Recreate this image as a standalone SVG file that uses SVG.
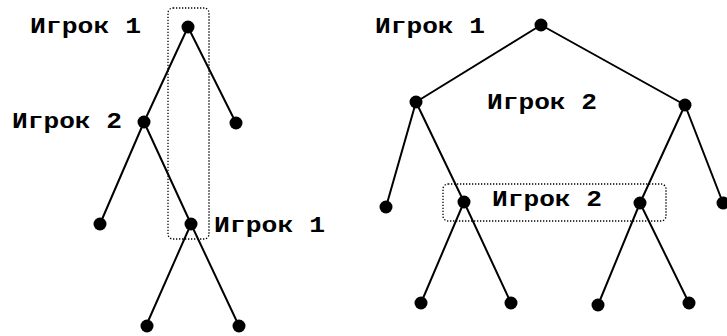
<svg xmlns="http://www.w3.org/2000/svg" width="727" height="336" viewBox="0 0 727 336">
<style>
.e{stroke:#000;stroke-width:2;fill:none}
.n{fill:#000}
.t{font-family:"Liberation Mono","DejaVu Sans Mono",monospace;font-weight:bold;font-size:22px;fill:#000}
.box{fill:none;stroke:#000;stroke-width:1.3;stroke-dasharray:1.3 1.7}
</style>
<rect width="727" height="336" fill="#fff"/>
<g id="connectors">
<path class="e" d="M188 27L144 122M188 27L236 123M144 122L100 224M144 122L191 224M191 224L146 326M191 224L239 326"/>
<path class="e" d="M541 25L416 102M541 25L685 105M416 102L386 207M416 102L464 202M685 105L640 203M685 105L723 203M464 202L421 303M464 202L511 303M640 203L598 305M640 203L689 303"/>
</g>
<g id="box1"><rect class="box" x="168" y="8" width="41" height="231" rx="5"/></g>
<g id="box2"><rect class="box" x="443" y="184" width="223" height="37" rx="5"/></g>
<g id="L_root"><circle class="n" cx="188" cy="27" r="6.5"/><text class="t" x="30" y="33" textLength="111" lengthAdjust="spacingAndGlyphs">Игрок 1</text></g>
<g id="L_p2"><circle class="n" cx="144" cy="122" r="6.5"/><text class="t" x="12" y="128" textLength="110" lengthAdjust="spacingAndGlyphs">Игрок 2</text></g>
<g id="L_r"><circle class="n" cx="236" cy="123" r="6.5"/></g>
<g id="L_ll"><circle class="n" cx="100" cy="224" r="6.5"/></g>
<g id="L_p1"><circle class="n" cx="191" cy="224" r="6.5"/><text class="t" x="214" y="232" textLength="111" lengthAdjust="spacingAndGlyphs">Игрок 1</text></g>
<g id="L_b1"><circle class="n" cx="147" cy="326" r="6.5"/></g>
<g id="L_b2"><circle class="n" cx="239" cy="326" r="6.5"/></g>
<g id="R_root"><circle class="n" cx="541" cy="25" r="6.5"/><text class="t" x="375" y="33" textLength="110" lengthAdjust="spacingAndGlyphs">Игрок 1</text></g>
<g id="R_l"><circle class="n" cx="416" cy="102" r="6.5"/></g>
<g id="R_r"><circle class="n" cx="685" cy="105" r="6.5"/></g>
<g id="R_label2"><text class="t" x="487" y="109" textLength="110" lengthAdjust="spacingAndGlyphs">Игрок 2</text></g>
<g id="R_ll"><circle class="n" cx="386" cy="207" r="6.5"/></g>
<g id="R_lr"><circle class="n" cx="464" cy="202" r="6.5"/></g>
<g id="R_rl"><circle class="n" cx="640" cy="203" r="6.5"/></g>
<g id="R_rr"><circle class="n" cx="723" cy="203" r="6.5"/></g>
<g id="R_label3"><text class="t" x="492" y="206" textLength="110" lengthAdjust="spacingAndGlyphs">Игрок 2</text></g>
<g id="R_b1"><circle class="n" cx="421" cy="303" r="6.5"/></g>
<g id="R_b2"><circle class="n" cx="511" cy="303" r="6.5"/></g>
<g id="R_b3"><circle class="n" cx="598" cy="305" r="6.5"/></g>
<g id="R_b4"><circle class="n" cx="689" cy="303" r="6.5"/></g>
</svg>
